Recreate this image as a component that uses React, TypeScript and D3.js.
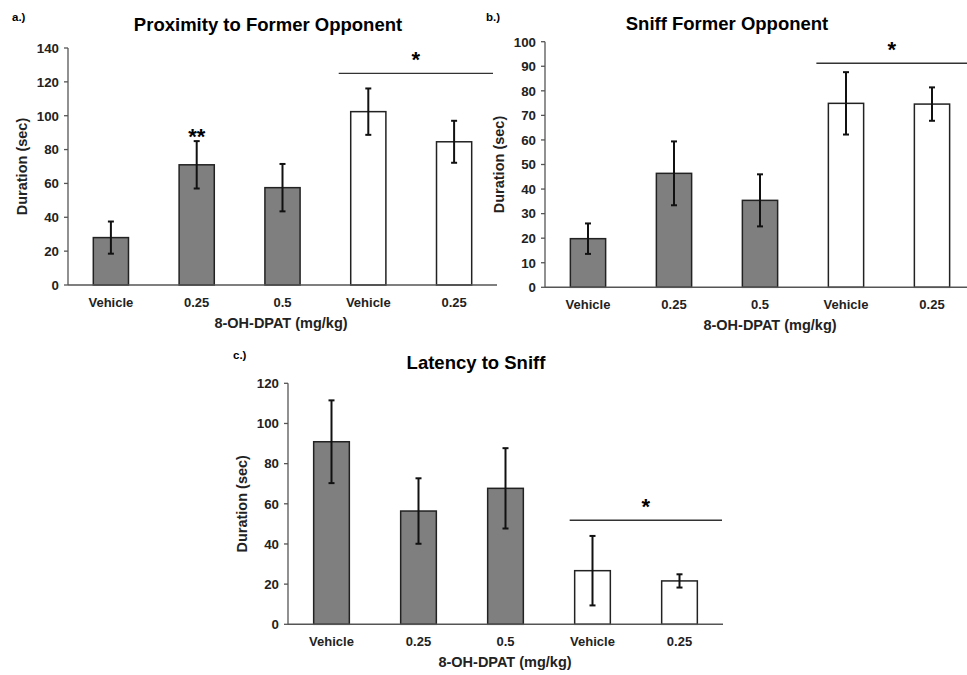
import React from 'react';
import * as d3 from 'd3';

// categories shared by all three panels
const categories = ['Vehicle', '0.25', '0.5', 'Vehicle ', '0.25 '];
const tickLabels = ['Vehicle', '0.25', '0.5', 'Vehicle', '0.25'];
const groupFill = ['#7f7f7f', '#7f7f7f', '#7f7f7f', '#ffffff', '#ffffff'];

// a.) Proximity to Former Opponent
const proximityMeans = [28, 71, 57.5, 102.4, 84.6];
const proximityErr = [9.5, 14, 14, 13.7, 12.4];
// b.) Sniff Former Opponent
const sniffMeans = [19.8, 46.4, 35.4, 74.9, 74.6];
const sniffErr = [6.2, 13, 10.6, 12.7, 6.8];
// c.) Latency to Sniff
const latencyMeans = [90.9, 56.4, 67.7, 26.7, 21.6];
const latencyErr = [20.6, 16.3, 20, 17.3, 3.3];

const yTicksA = [0, 20, 40, 60, 80, 100, 120, 140];
const yTicksB = [0, 10, 20, 30, 40, 50, 60, 70, 80, 90, 100];
const yTicksC = [0, 20, 40, 60, 80, 100, 120];

const font = '"Liberation Sans", Arial, sans-serif';

function Panel(props) {
  const { letter, title, means, errs, ticks, x0, x1, yTop, yBottom, titleX, titleY, letterX, letterY,
    xTitleX, bracketY, bracketPad, bracketEnd, starsOn, starsText } = props;
  const x = d3.scaleBand().domain(categories).range([x0, x1]).paddingInner(0.59).paddingOuter(0.295);
  const y = d3.scaleLinear().domain([0, d3.max(ticks)]).range([yBottom, yTop]);
  const bw = x.bandwidth();
  const cap = 3;
  const bx0 = x(categories[3]) - bracketPad;
  const bx1 = bracketEnd;
  return (
    <g fontFamily={font} fontWeight="bold">
      <text x={letterX} y={letterY} fontSize={11.5}>{letter}</text>
      <text x={titleX} y={titleY} fontSize={18.5} textAnchor="middle">{title}</text>
      {/* y axis */}
      <line x1={x0} x2={x0} y1={yTop} y2={yBottom} stroke="#555" strokeWidth={1.3} />
      {ticks.map(t => (
        <g key={t}>
          <line x1={x0 - 4} x2={x0} y1={y(t)} y2={y(t)} stroke="#555" strokeWidth={1.3} />
          <text x={x0 - 9} y={y(t) + 4.8} fontSize={13.3} textAnchor="end" fill="#222">{t}</text>
        </g>
      ))}
      <text transform={`translate(${x0 - 41},${(yTop + yBottom) / 2}) rotate(-90)`} fontSize={14.5}
        textAnchor="middle" fill="#222">Duration (sec)</text>
      {/* bars */}
      {means.map((m, i) => {
        const cx = x(categories[i]) + bw / 2;
        return (
          <g key={i}>
            <rect x={x(categories[i])} y={y(m)} width={bw} height={yBottom - y(m)} fill={groupFill[i]}
              stroke="#222" strokeWidth={1.5} />
            <line x1={cx} x2={cx} y1={y(m + errs[i])} y2={y(m - errs[i])} stroke="#111" strokeWidth={2} />
            <line x1={cx - cap} x2={cx + cap} y1={y(m + errs[i])} y2={y(m + errs[i])} stroke="#111" strokeWidth={2} />
            <line x1={cx - cap} x2={cx + cap} y1={y(m - errs[i])} y2={y(m - errs[i])} stroke="#111" strokeWidth={2} />
            <text x={cx} y={yBottom + 21.5} fontSize={13} textAnchor="middle" fill="#222">{tickLabels[i]}</text>
          </g>
        );
      })}
      {/* x axis */}
      <line x1={x0} x2={x1} y1={yBottom} y2={yBottom} stroke="#555" strokeWidth={1.5} />
      <text x={xTitleX} y={yBottom + 43} fontSize={14.5} textAnchor="middle" fill="#222">8-OH-DPAT (mg/kg)</text>
      {/* significance */}
      <line x1={bx0} x2={bx1} y1={y(bracketY)} y2={y(bracketY)} stroke="#333" strokeWidth={1.4} />
      <text x={(bx0 + bx1) / 2} y={y(bracketY) - 6} fontSize={22} textAnchor="middle">*</text>
      {starsOn != null && (
        <text x={x(categories[starsOn]) + bw / 2} y={y(means[starsOn] + errs[starsOn]) + 3} fontSize={22}
          textAnchor="middle">{starsText}</text>
      )}
    </g>
  );
}

export default function App() {
  return (
    <svg width={967} height={675} style={{ position: 'absolute', left: 0, top: 0, background: '#fff' }}>
      <rect width={967} height={675} fill="#fff" />
      <Panel letter="a.)" title="Proximity to Former Opponent" means={proximityMeans} errs={proximityErr}
        ticks={yTicksA} x0={68} x1={497} yTop={48} yBottom={285} titleX={268} titleY={31}
        letterX={12} letterY={21} xTitleX={281} bracketY={125} bracketPad={12} bracketEnd={493}
        starsOn={1} starsText="**" />
      <Panel letter="b.)" title="Sniff Former Opponent" means={sniffMeans} errs={sniffErr}
        ticks={yTicksB} x0={545} x1={975} yTop={41.7} yBottom={287.3} titleX={727} titleY={30}
        letterX={486} letterY={21} xTitleX={770} bracketY={91.2} bracketPad={12} bracketEnd={967} />
      <Panel letter="c.)" title="Latency to Sniff" means={latencyMeans} errs={latencyErr}
        ticks={yTicksC} x0={288} x1={723} yTop={383.3} yBottom={624.3} titleX={476} titleY={369}
        letterX={233} letterY={359} xTitleX={505} bracketY={51.8} bracketPad={5} bracketEnd={722} />
    </svg>
  );
}
